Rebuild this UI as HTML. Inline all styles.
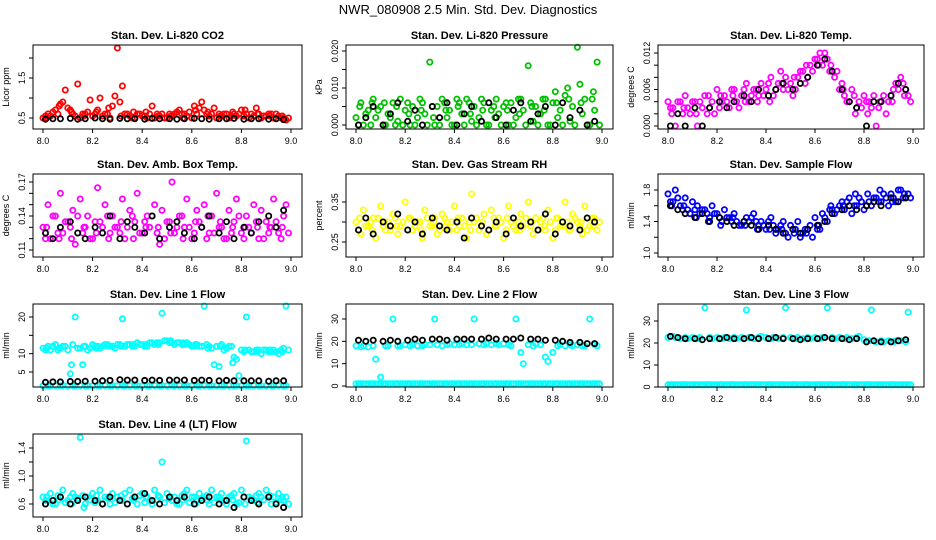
<!DOCTYPE html>
<html><head><meta charset="utf-8"><style>
body{margin:0;background:#fff;}
svg{display:block;font-family:"Liberation Sans",sans-serif;}
</style></head><body>
<svg id="chart" width="936" height="540" viewBox="0 0 936 540">
<text x="468" y="14" text-anchor="middle" font-size="13">NWR_080908  2.5 Min. Std. Dev. Diagnostics</text>
</svg>
<script>
const timesColor=[8.00,8.02,8.03,8.05,8.07,8.08,8.10,8.12,8.13,8.15,8.17,8.18,8.20,8.22,8.23,8.25,8.27,8.28,8.30,8.32,8.33,8.35,8.37,8.38,8.40,8.42,8.43,8.45,8.47,8.48,8.50,8.52,8.53,8.55,8.57,8.58,8.60,8.62,8.63,8.65,8.67,8.68,8.70,8.72,8.73,8.75,8.77,8.78,8.80,8.82,8.83,8.85,8.87,8.88,8.90,8.92,8.93,8.95,8.97,8.98];
const timesColor2=[8.01,8.015,8.04,8.06,8.065,8.09,8.11,8.115,8.14,8.16,8.165,8.19,8.21,8.215,8.24,8.26,8.265,8.29,8.31,8.315,8.34,8.36,8.365,8.39,8.41,8.415,8.44,8.46,8.465,8.49,8.51,8.515,8.54,8.56,8.565,8.59,8.61,8.615,8.64,8.66,8.665,8.69,8.71,8.715,8.74,8.76,8.765,8.79,8.81,8.815,8.84,8.86,8.865,8.89,8.91,8.915,8.94,8.96,8.965,8.99];
const timesBlack=[8.01,8.04,8.07,8.11,8.14,8.17,8.21,8.24,8.27,8.31,8.34,8.37,8.41,8.44,8.47,8.51,8.54,8.57,8.61,8.64,8.67,8.71,8.74,8.77,8.81,8.84,8.87,8.91,8.94,8.97];
const xTicks=[8.0,8.2,8.4,8.6,8.8,9.0];
const xTickLabels=["8.0","8.2","8.4","8.6","8.8","9.0"];

const co2Color=[0.5,0.6,0.55,0.7,0.85,0.9,0.75,0.6,0.55,0.5,0.6,0.65,0.55,0.7,1.0,0.6,0.5,0.8,2.25,1.3,0.6,0.55,0.5,0.6,0.55,0.5,0.6,0.5,0.55,0.6,0.5,0.55,0.6,0.7,0.6,0.55,0.5,0.6,0.75,0.7,0.55,0.6,0.5,0.55,0.6,0.5,0.6,0.55,0.7,0.6,0.5,0.55,0.6,0.5,0.55,0.6,0.5,0.55,0.5,0.45];
const co2Color2=[0.55,0.5,0.65,0.6,0.8,1.2,0.7,0.65,1.35,0.6,0.55,0.95,0.6,0.65,0.55,0.6,0.75,1.05,0.9,0.55,0.6,0.5,0.65,0.6,0.55,0.65,0.8,0.6,0.55,0.5,0.6,0.55,0.65,0.6,0.5,0.65,0.8,0.7,0.9,0.6,0.65,0.75,0.6,0.55,0.6,0.55,0.65,0.6,0.55,0.7,0.6,0.75,0.6,0.55,0.6,0.55,0.6,0.5,0.55,0.5];
const co2Black=[0.47,0.48,0.48,0.49,0.47,0.48,0.5,0.48,0.47,0.49,0.48,0.48,0.47,0.49,0.48,0.48,0.47,0.48,0.49,0.48,0.47,0.48,0.48,0.49,0.47,0.48,0.48,0.47,0.48,0.46];
const presColor=[0.002,0.006,0.000,0.004,0.007,0.002,0.005,0.000,0.003,0.006,0.001,0.007,0.004,0.000,0.005,0.002,0.006,0.003,0.017,0.000,0.005,0.007,0.002,0.004,0.000,0.006,0.003,0.007,0.001,0.005,0.002,0.006,0.000,0.004,0.007,0.003,0.005,0.000,0.006,0.002,0.007,0.004,0.016,0.001,0.005,0.003,0.007,0.000,0.006,0.002,0.004,0.008,0.001,0.005,0.021,0.003,0.007,0.000,0.004,0.017];
const presColor2=[0.000,0.005,0.003,0.000,0.006,0.004,0.000,0.006,0.002,0.000,0.005,0.000,0.006,0.003,0.000,0.007,0.004,0.000,0.005,0.002,0.000,0.006,0.004,0.000,0.007,0.005,0.000,0.006,0.003,0.000,0.007,0.004,0.000,0.005,0.002,0.000,0.006,0.004,0.000,0.007,0.003,0.000,0.006,0.005,0.000,0.007,0.004,0.000,0.009,0.006,0.000,0.010,0.007,0.000,0.011,0.006,0.000,0.007,0.009,0.000];
const presBlack=[0.000,0.002,0.005,0.000,0.003,0.006,0.001,0.004,0.000,0.005,0.002,0.006,0.000,0.003,0.005,0.001,0.006,0.002,0.000,0.004,0.006,0.001,0.003,0.005,0.000,0.006,0.002,0.004,0.000,0.001];
const tempColor=[0.004,0.003,0.000,0.004,0.005,0.003,0.004,0.000,0.004,0.005,0.003,0.004,0.006,0.004,0.005,0.003,0.006,0.004,0.005,0.007,0.004,0.006,0.005,0.007,0.006,0.008,0.005,0.007,0.006,0.008,0.007,0.006,0.008,0.009,0.008,0.010,0.011,0.012,0.010,0.011,0.009,0.008,0.006,0.005,0.004,0.006,0.003,0.004,0.005,0.004,0.003,0.000,0.004,0.005,0.004,0.006,0.007,0.008,0.006,0.005];
const tempColor2=[0.003,0.002,0.004,0.002,0.003,0.002,0.004,0.002,0.003,0.002,0.005,0.002,0.003,0.005,0.004,0.006,0.005,0.003,0.006,0.004,0.005,0.006,0.004,0.005,0.007,0.004,0.006,0.009,0.007,0.006,0.005,0.008,0.009,0.007,0.010,0.009,0.011,0.010,0.012,0.009,0.010,0.009,0.007,0.006,0.004,0.005,0.002,0.003,0.004,0.002,0.005,0.003,0.004,0.002,0.005,0.004,0.006,0.007,0.005,0.004];
const tempBlack=[0.000,0.002,0.000,0.003,0.000,0.003,0.004,0.003,0.004,0.005,0.004,0.006,0.005,0.006,0.007,0.006,0.007,0.008,0.010,0.011,0.009,0.006,0.004,0.003,0.000,0.004,0.004,0.005,0.007,0.006];
const ambColor=[0.13,0.15,0.12,0.14,0.16,0.125,0.135,0.145,0.115,0.155,0.13,0.14,0.12,0.165,0.135,0.15,0.125,0.14,0.13,0.155,0.12,0.145,0.135,0.16,0.125,0.14,0.13,0.15,0.115,0.145,0.135,0.17,0.125,0.14,0.13,0.155,0.12,0.145,0.135,0.15,0.125,0.14,0.16,0.13,0.12,0.145,0.135,0.155,0.125,0.14,0.13,0.15,0.12,0.145,0.135,0.13,0.155,0.125,0.14,0.15];
const ambColor2=[0.12,0.13,0.14,0.125,0.12,0.135,0.13,0.12,0.14,0.125,0.13,0.12,0.135,0.125,0.13,0.14,0.12,0.13,0.125,0.135,0.13,0.14,0.12,0.125,0.135,0.13,0.14,0.125,0.13,0.12,0.135,0.125,0.13,0.14,0.12,0.13,0.125,0.135,0.13,0.12,0.14,0.125,0.13,0.135,0.12,0.125,0.13,0.14,0.12,0.13,0.125,0.135,0.13,0.12,0.125,0.13,0.135,0.12,0.13,0.125];
const ambBlack=[0.125,0.12,0.13,0.135,0.125,0.12,0.13,0.125,0.14,0.12,0.135,0.13,0.125,0.14,0.12,0.13,0.135,0.125,0.12,0.13,0.14,0.125,0.135,0.12,0.13,0.125,0.135,0.14,0.13,0.145];
const rhColor=[0.30,0.27,0.33,0.29,0.31,0.26,0.34,0.28,0.30,0.32,0.27,0.29,0.35,0.31,0.28,0.30,0.26,0.33,0.29,0.31,0.27,0.32,0.30,0.28,0.34,0.29,0.31,0.26,0.37,0.30,0.28,0.32,0.27,0.33,0.29,0.31,0.26,0.34,0.30,0.28,0.32,0.29,0.35,0.27,0.31,0.30,0.28,0.33,0.26,0.31,0.29,0.35,0.28,0.32,0.30,0.27,0.34,0.29,0.31,0.28];
const rhColor2=[0.28,0.31,0.29,0.30,0.28,0.31,0.29,0.30,0.28,0.31,0.29,0.30,0.28,0.31,0.29,0.30,0.28,0.31,0.29,0.30,0.28,0.31,0.29,0.30,0.28,0.31,0.29,0.30,0.28,0.31,0.29,0.30,0.28,0.31,0.29,0.30,0.28,0.31,0.29,0.30,0.28,0.31,0.29,0.30,0.28,0.31,0.29,0.30,0.28,0.31,0.29,0.30,0.28,0.31,0.29,0.30,0.28,0.31,0.29,0.30];
const rhBlack=[0.28,0.31,0.27,0.30,0.29,0.32,0.28,0.30,0.27,0.31,0.29,0.28,0.30,0.26,0.31,0.29,0.28,0.30,0.27,0.31,0.29,0.30,0.28,0.32,0.27,0.30,0.29,0.28,0.31,0.30];
const sampleColor=[1.75,1.65,1.8,1.6,1.7,1.55,1.65,1.6,1.5,1.55,1.45,1.6,1.5,1.4,1.55,1.45,1.5,1.4,1.35,1.45,1.4,1.5,1.35,1.4,1.3,1.45,1.35,1.3,1.4,1.25,1.35,1.3,1.4,1.25,1.3,1.35,1.45,1.3,1.5,1.4,1.55,1.5,1.6,1.55,1.65,1.5,1.6,1.7,1.55,1.65,1.6,1.7,1.65,1.75,1.6,1.7,1.65,1.8,1.7,1.75];
const sampleColor2=[1.65,1.6,1.7,1.55,1.6,1.5,1.55,1.45,1.55,1.5,1.4,1.5,1.45,1.35,1.45,1.4,1.45,1.35,1.4,1.35,1.45,1.4,1.3,1.35,1.4,1.3,1.25,1.35,1.3,1.2,1.3,1.25,1.2,1.3,1.25,1.2,1.3,1.35,1.45,1.55,1.6,1.55,1.65,1.6,1.7,1.6,1.75,1.65,1.6,1.75,1.7,1.65,1.8,1.7,1.75,1.65,1.8,1.7,1.75,1.7];
const sampleBlack=[1.6,1.55,1.5,1.45,1.5,1.4,1.45,1.4,1.35,1.4,1.35,1.3,1.35,1.3,1.25,1.3,1.25,1.3,1.35,1.4,1.5,1.55,1.6,1.55,1.6,1.65,1.6,1.7,1.65,1.7];
const line1Color=[11.5,12,11,12.5,11.5,12,11,12.5,20,11.5,12,11,12.5,12,11.5,12.5,12,12,12.5,19.5,12,12.5,12,13,12.5,12,13,12.5,13,21,13.5,13,12.5,13,12.5,13,12,12.5,12,23,12,11.5,12,12.5,11,12,9,8.5,11,20,11,10.5,11,10,11,10.5,11,10,11.5,23];
const line1Color2=[11,11.5,12,11,11.5,12,4.5,7,11.5,7,12,11.5,12,11.5,12,12.5,12,11.5,12.5,12,12.5,12,12.5,12.5,12,12.5,13,13,12.5,13.5,13,13.5,13,12.5,13,12.5,12,12.5,12,12.5,11.5,7,6.5,12,11.5,12,7.5,4,10.5,11,10.5,11,10.5,11,10.5,11,10.5,11,10.5,11];
const line1Low=[1.2,1.3,1.2,1.3,1.2,1.3,1.2,1.3,1.2,1.3,1.2,1.3,1.2,1.3,1.2,1.3,1.2,1.3,1.2,1.3,1.2,1.3,1.2,1.3,1.2,1.3,1.2,1.3,1.2,1.3,1.2,1.3,1.2,1.3,1.2,1.3,1.2,1.3,1.2,1.3,1.2,1.3,1.2,1.3,1.2,1.3,1.2,1.3,1.2,1.3,1.2,1.3,1.2,1.3,1.2,1.3,1.2,1.3,1.2,1.3];
const line1Black=[2.2,2.3,2.3,2.4,2.4,2.5,2.5,2.6,2.7,2.9,2.8,2.8,2.7,2.8,2.7,2.8,2.8,2.8,2.7,2.8,2.7,2.6,2.7,2.6,2.6,2.6,2.6,2.5,2.6,2.6];
const line2Color=[18,17.5,18,17.5,18,12,4,18,18,30,18,18,18.5,18,18.5,18,18,18.5,18.5,30,18.5,18,18.5,19,18.5,18.5,19,18.5,18.5,30,19,18.5,19,18.5,19,18.5,19,18.5,18,30,15,10,18.5,18,19,18.5,13,11,15,18,18.5,18,18.5,18,18.5,18,18,30,18.5,18];
const line2Low=[1,1,1,1,1,1,1,1,1,1,1,1,1,1,1,1,1,1,1,1,1,1,1,1,1,1,1,1,1,1,1,1,1,1,1,1,1,1,1,1,1,1,1,1,1,1,1,1,1,1,1,1,1,1,1,1,1,1,1,1];
const line2Black=[20.5,20,20.5,20,20.5,20,20.5,21,20.5,21,21,20.5,21,21,21,21,21.5,21,21,21,21.5,21,21,20.5,20.5,20,19.5,19.5,19,19];
const line3Color=[22.5,23,22.5,22,22.5,22,22.5,22,22.5,36,22.5,22,22.5,22,22.5,22,22.5,22,22.5,35,22.5,22,22.5,23,22.5,22,22.5,22,22.5,36,22.5,22,22.5,22,22.5,22,22.5,22,22.5,36,22.5,22,22.5,22,22.5,22,22.5,23,21.5,21,35,20.5,21,20.5,21,20.5,21,21,20.5,34];
const line3Low=[1,1,1,1,1,1,1,1,1,1,1,1,1,1,1,1,1,1,1,1,1,1,1,1,1,1,1,1,1,1,1,1,1,1,1,1,1,1,1,1,1,1,1,1,1,1,1,1,1,1,1,1,1,1,1,1,1,1,1,1];
const line3Black=[23,22.5,22,22,21.5,22,22,22.5,22,22,22.5,22,22,22.5,22,22,21.5,22,22,22.5,22,22,21.5,22,20.5,21,20.5,20.5,21,21.5];
const ltColor=[0.7,0.65,0.75,0.6,0.7,0.8,0.65,0.75,0.7,1.55,0.6,0.7,0.75,0.65,0.8,0.7,0.6,0.75,0.7,0.65,0.75,0.8,0.7,0.6,0.75,0.7,0.65,0.8,0.7,1.2,0.75,0.65,0.7,0.6,0.75,0.8,0.7,0.65,0.75,0.7,0.6,0.8,0.7,0.75,0.65,0.7,0.75,0.6,0.8,1.5,0.7,0.65,0.75,0.7,0.8,0.6,0.7,0.75,0.65,0.7];
const ltColor2=[0.65,0.7,0.6,0.72,0.66,0.62,0.7,0.6,0.68,0.72,0.55,0.66,0.62,0.72,0.6,0.68,0.7,0.62,0.66,0.72,0.6,0.68,0.65,0.72,0.62,0.7,0.6,0.66,0.72,0.62,0.68,0.7,0.6,0.72,0.66,0.62,0.7,0.6,0.68,0.72,0.65,0.62,0.7,0.66,0.6,0.72,0.66,0.62,0.7,0.6,0.68,0.72,0.62,0.66,0.7,0.72,0.62,0.66,0.7,0.6];
const ltBlack=[0.6,0.65,0.7,0.6,0.65,0.7,0.65,0.6,0.7,0.65,0.6,0.7,0.75,0.65,0.6,0.7,0.65,0.7,0.6,0.65,0.7,0.6,0.65,0.55,0.7,0.65,0.6,0.7,0.6,0.55];

const cols=[[33,302],[346,613],[658,924]];
const rows=[[45,129],[174,257],[304,387],[434,517]];
const panels=[
 {n:"co2",title:"Stan. Dev. Li-820 CO2",yl:"Licor ppm",c:0,r:0,cal:[0.5,118,1.5,78],yt:[0.5,1.0,1.5,2.0],ytl:["0.5","","1.5",""],series:[[co2Color,"#ff0000",timesColor],[co2Color2,"#ff0000",timesColor2],[co2Black,"#000",timesBlack]]},
 {n:"pressure",title:"Stan. Dev. Li-820 Pressure",yl:"kPa",c:1,r:0,cal:[0,125,0.02,51],yt:[0,0.005,0.01,0.015,0.02],ytl:["0.000","","0.010","","0.020"],series:[[presColor,"#00c000",timesColor],[presColor2,"#00c000",timesColor2],[presBlack,"#000",timesBlack]]},
 {n:"temp",title:"Stan. Dev. Li-820 Temp.",yl:"degrees C",c:2,r:0,cal:[0,126,0.012,53],yt:[0,0.002,0.004,0.006,0.008,0.01,0.012],ytl:["0.000","","","0.006","","","0.012"],series:[[tempColor,"#ff00ff",timesColor],[tempColor2,"#ff00ff",timesColor2],[tempBlack,"#000",timesBlack]]},
 {n:"amb-temp",title:"Stan. Dev. Amb. Box Temp.",yl:"degrees C",c:0,r:1,cal:[0.11,250,0.17,182],yt:[0.11,0.12,0.13,0.14,0.15,0.16,0.17],ytl:["0.11","","","0.14","","","0.17"],series:[[ambColor,"#ff00ff",timesColor],[ambColor2,"#ff00ff",timesColor2],[ambBlack,"#000",timesBlack]]},
 {n:"gas-rh",title:"Stan. Dev. Gas Stream RH",yl:"percent",c:1,r:1,cal:[0.25,242,0.35,202],yt:[0.25,0.30,0.35],ytl:["0.25","","0.35"],series:[[rhColor,"#ffff00",timesColor],[rhColor2,"#ffff00",timesColor2],[rhBlack,"#000",timesBlack]]},
 {n:"sample-flow",title:"Stan. Dev. Sample Flow",yl:"ml/min",c:2,r:1,cal:[1.0,253,1.8,190],yt:[1.0,1.2,1.4,1.6,1.8],ytl:["1.0","","1.4","","1.8"],series:[[sampleColor,"#0000ff",timesColor],[sampleColor2,"#0000ff",timesColor2],[sampleBlack,"#000",timesBlack]]},
 {n:"line1",title:"Stan. Dev. Line 1 Flow",yl:"ml/min",c:0,r:2,cal:[5,372,20,317],yt:[5,10,15,20],ytl:["5","10","","20"],series:[[line1Color,"#00ffff",timesColor],[line1Color2,"#00ffff",timesColor2],[line1Low,"#00ffff",timesColor],[line1Black,"#000",timesBlack]]},
 {n:"line2",title:"Stan. Dev. Line 2 Flow",yl:"ml/min",c:1,r:2,cal:[0,386,30,319],yt:[0,10,20,30],ytl:["0","10","20","30"],series:[[line2Color,"#00ffff",timesColor],[line2Low,"#00ffff",timesColor],[line2Low,"#00ffff",timesColor2],[line2Black,"#000",timesBlack]]},
 {n:"line3",title:"Stan. Dev. Line 3 Flow",yl:"ml/min",c:2,r:2,cal:[0,387,30,321],yt:[0,10,20,30],ytl:["0","10","20","30"],series:[[line3Color,"#00ffff",timesColor],[line3Low,"#00ffff",timesColor],[line3Low,"#00ffff",timesColor2],[line3Black,"#000",timesBlack]]},
 {n:"line4",title:"Stan. Dev. Line 4 (LT) Flow",yl:"ml/min",c:0,r:3,cal:[0.6,504,1.4,448],yt:[0.6,0.8,1.0,1.2,1.4],ytl:["0.6","","1.0","","1.4"],series:[[ltColor,"#00ffff",timesColor],[ltColor2,"#00ffff",timesColor2],[ltBlack,"#000",timesBlack]]}
];
const NS="http://www.w3.org/2000/svg";
const svg=document.getElementById('chart');
function mk(tag,attrs,parent){const e=document.createElementNS(NS,tag);for(const k in attrs)e.setAttribute(k,attrs[k]);parent.appendChild(e);return e;}
panels.forEach(p=>{
 const [x0,x1]=cols[p.c],[y0,y1]=rows[p.r];
 const g=mk('g',{},svg);
 
 
 const xs=v=>x0+10+(v-8)*(x1-x0-21);
 const ys=v=>p.cal[1]+(v-p.cal[0])*(p.cal[3]-p.cal[1])/(p.cal[2]-p.cal[0]);
 const t=mk('text',{x:(x0+x1)/2,y:y0-6,'text-anchor':'middle','font-size':'11','font-weight':'bold'},g);
 t.textContent=p.title;
 
 
 p.series.forEach(s=>{
  const sg=mk('g',{fill:'none',stroke:s[1],'stroke-width':'1.8'},g);
  
  
  const vals=s[0],ts=s[2];
  for(let i=0;i<Math.min(vals.length,ts.length);i++){
   const c=mk('circle',{cx:xs(ts[i]).toFixed(1),cy:ys(vals[i]).toFixed(1),r:'2.6'},sg);
   
   
  }
 });
 const box=mk('rect',{x:x0,y:y0,width:x1-x0,height:y1-y0,fill:'none',stroke:'#000','stroke-width':'1'},g);
 
 
 xTicks.forEach((v,i)=>{
  const x=xs(v);
  mk('line',{x1:x,x2:x,y1:y1,y2:y1+4,stroke:'#000'},g);
  const tl=mk('text',{x:x,y:y1+15,'text-anchor':'middle','font-size':'9'},g);
  tl.textContent=xTickLabels[i];
  
  
 });
 p.yt.forEach((v,i)=>{
  const y=ys(v);
  mk('line',{x1:x0-4,x2:x0,y1:y,y2:y,stroke:'#000'},g);
  if(p.ytl[i]){
   const tl=mk('text',{x:x0-8,y:y,'text-anchor':'middle','font-size':'9',transform:`rotate(-90 ${x0-8} ${y})`},g);
   tl.textContent=p.ytl[i];
   
   
  }
 });
 const yl=mk('text',{x:x0-24,y:(y0+y1)/2,'text-anchor':'middle','font-size':'9',transform:`rotate(-90 ${x0-24} ${(y0+y1)/2})`},g);
 yl.textContent=p.yl;
 
 
});
</script>
</body></html>
